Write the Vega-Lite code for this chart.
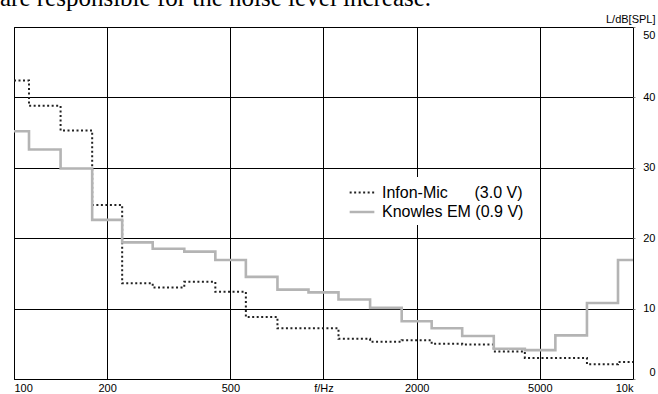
{
  "$schema": "https://vega.github.io/schema/vega-lite/v6.json",
  "width": 619,
  "height": 352,
  "autosize": {"type": "none"},
  "padding": {"left": 14, "top": 27, "right": 25, "bottom": 15},
  "background": "white",
  "title": {
    "text": "are responsible for the noise level increase.",
    "anchor": "start",
    "frame": "group",
    "font": "Liberation Serif",
    "fontSize": 25,
    "fontWeight": "normal",
    "color": "#000",
    "baseline": "alphabetic",
    "offset": 0,
    "dx": -14,
    "dy": 18
  },
  "data": {
    "values": [
      {"f": 100, "dB": 42.4, "series": "Infon-Mic"},
      {"f": 125, "dB": 38.8, "series": "Infon-Mic"},
      {"f": 160, "dB": 35.3, "series": "Infon-Mic"},
      {"f": 200, "dB": 24.7, "series": "Infon-Mic"},
      {"f": 250, "dB": 13.6, "series": "Infon-Mic"},
      {"f": 315, "dB": 13.0, "series": "Infon-Mic"},
      {"f": 400, "dB": 13.8, "series": "Infon-Mic"},
      {"f": 500, "dB": 12.4, "series": "Infon-Mic"},
      {"f": 630, "dB": 8.8, "series": "Infon-Mic"},
      {"f": 800, "dB": 7.2, "series": "Infon-Mic"},
      {"f": 1000, "dB": 7.2, "series": "Infon-Mic"},
      {"f": 1250, "dB": 5.7, "series": "Infon-Mic"},
      {"f": 1600, "dB": 5.3, "series": "Infon-Mic"},
      {"f": 2000, "dB": 5.5, "series": "Infon-Mic"},
      {"f": 2500, "dB": 5.0, "series": "Infon-Mic"},
      {"f": 3150, "dB": 4.9, "series": "Infon-Mic"},
      {"f": 4000, "dB": 3.9, "series": "Infon-Mic"},
      {"f": 5000, "dB": 3.0, "series": "Infon-Mic"},
      {"f": 6300, "dB": 3.0, "series": "Infon-Mic"},
      {"f": 8000, "dB": 2.1, "series": "Infon-Mic"},
      {"f": 10000, "dB": 2.4, "series": "Infon-Mic"},
      {"f": 100, "dB": 35.2, "series": "Knowles EM"},
      {"f": 125, "dB": 32.6, "series": "Knowles EM"},
      {"f": 160, "dB": 29.9, "series": "Knowles EM"},
      {"f": 200, "dB": 22.6, "series": "Knowles EM"},
      {"f": 250, "dB": 19.4, "series": "Knowles EM"},
      {"f": 315, "dB": 18.5, "series": "Knowles EM"},
      {"f": 400, "dB": 18.1, "series": "Knowles EM"},
      {"f": 500, "dB": 16.9, "series": "Knowles EM"},
      {"f": 630, "dB": 14.5, "series": "Knowles EM"},
      {"f": 800, "dB": 12.7, "series": "Knowles EM"},
      {"f": 1000, "dB": 12.3, "series": "Knowles EM"},
      {"f": 1250, "dB": 11.3, "series": "Knowles EM"},
      {"f": 1600, "dB": 10.1, "series": "Knowles EM"},
      {"f": 2000, "dB": 8.2, "series": "Knowles EM"},
      {"f": 2500, "dB": 7.2, "series": "Knowles EM"},
      {"f": 3150, "dB": 6.1, "series": "Knowles EM"},
      {"f": 4000, "dB": 4.3, "series": "Knowles EM"},
      {"f": 5000, "dB": 4.1, "series": "Knowles EM"},
      {"f": 6300, "dB": 6.2, "series": "Knowles EM"},
      {"f": 8000, "dB": 10.8, "series": "Knowles EM"},
      {"f": 10000, "dB": 16.9, "series": "Knowles EM"}
    ]
  },
  "mark": {"type": "line", "interpolate": "step", "clip": true},
  "encoding": {
    "x": {
      "field": "f",
      "type": "quantitative",
      "scale": {"type": "log", "domain": [100, 10000], "nice": false},
      "axis": {
        "orient": "bottom",
        "values": [100, 200, 500, 1000, 2000, 5000, 10000],
        "labelExpr": "datum.value == 1000 ? 'f/Hz' : datum.value == 10000 ? '10k' : format(datum.value, 'd')",
        "grid": true,
        "gridColor": "#000",
        "gridOpacity": 1,
        "gridWidth": 1,
        "domain": false,
        "ticks": false,
        "labelPadding": 3,
        "labelBaseline": "top",
        "labelFont": "Liberation Sans",
        "labelFontSize": 11,
        "labelColor": "#000",
        "labelFlush": true,
        "labelOverlap": false,
        "title": null
      }
    },
    "y": {
      "field": "dB",
      "type": "quantitative",
      "scale": {"domain": [0, 50], "nice": false},
      "axis": {
        "orient": "right",
        "values": [0, 10, 20, 30, 40, 50],
        "grid": true,
        "gridColor": "#000",
        "gridOpacity": 1,
        "gridWidth": 1,
        "domain": false,
        "ticks": true,
        "tickSize": 2,
        "tickColor": "#888",
        "labelPadding": 20,
        "labelAlign": "right",
        "labelFlush": true,
        "labelFlushOffset": -2,
        "labelFont": "Liberation Sans",
        "labelFontSize": 11,
        "labelColor": "#000",
        "title": "L/dB[SPL]",
        "titleAngle": 0,
        "titleX": 22,
        "titleY": -8,
        "titleAlign": "right",
        "titleBaseline": "middle",
        "titleFont": "Liberation Sans",
        "titleFontSize": 11,
        "titleFontWeight": "normal",
        "titleColor": "#000"
      }
    },
    "color": {
      "field": "series",
      "type": "nominal",
      "title": null,
      "scale": {"domain": ["Infon-Mic", "Knowles EM"], "range": ["#222222", "#b4b4b4"]},
      "legend": {
        "labelExpr": "datum.value == 'Infon-Mic' ? 'Infon-Mic\u00a0\u00a0\u00a0\u00a0\u00a0\u00a0(3.0 V)\u00a0\u00a0\u00a0\u00a0\u00a0\u00a0' : 'Knowles EM (0.9 V)\u00a0\u00a0\u00a0\u00a0\u00a0\u00a0'"
      }
    },
    "strokeDash": {
      "field": "series",
      "type": "nominal",
      "title": null,
      "scale": {"domain": ["Infon-Mic", "Knowles EM"], "range": [[2, 2.5], [1, 0]]},
      "legend": {
        "labelExpr": "datum.value == 'Infon-Mic' ? 'Infon-Mic\u00a0\u00a0\u00a0\u00a0\u00a0\u00a0(3.0 V)\u00a0\u00a0\u00a0\u00a0\u00a0\u00a0' : 'Knowles EM (0.9 V)\u00a0\u00a0\u00a0\u00a0\u00a0\u00a0'"
      }
    },
    "strokeWidth": {
      "field": "series",
      "type": "nominal",
      "title": null,
      "scale": {"domain": ["Infon-Mic", "Knowles EM"], "range": [2, 2.6]},
      "legend": {
        "labelExpr": "datum.value == 'Infon-Mic' ? 'Infon-Mic\u00a0\u00a0\u00a0\u00a0\u00a0\u00a0(3.0 V)\u00a0\u00a0\u00a0\u00a0\u00a0\u00a0' : 'Knowles EM (0.9 V)\u00a0\u00a0\u00a0\u00a0\u00a0\u00a0'"
      }
    }
  },
  "config": {
    "view": {"stroke": "#000", "strokeWidth": 1},
    "legend": {
      "orient": "none",
      "legendX": 332,
      "legendY": 150,
      "fillColor": "white",
      "padding": 5,
      "rowPadding": 0,
      "symbolType": "M-1.3,0H1.3",
      "symbolSize": 361,
      "labelOffset": 9,
      "labelFont": "Liberation Sans",
      "labelFontSize": 16,
      "labelColor": "#000",
      "labelLimit": 400
    }
  }
}
